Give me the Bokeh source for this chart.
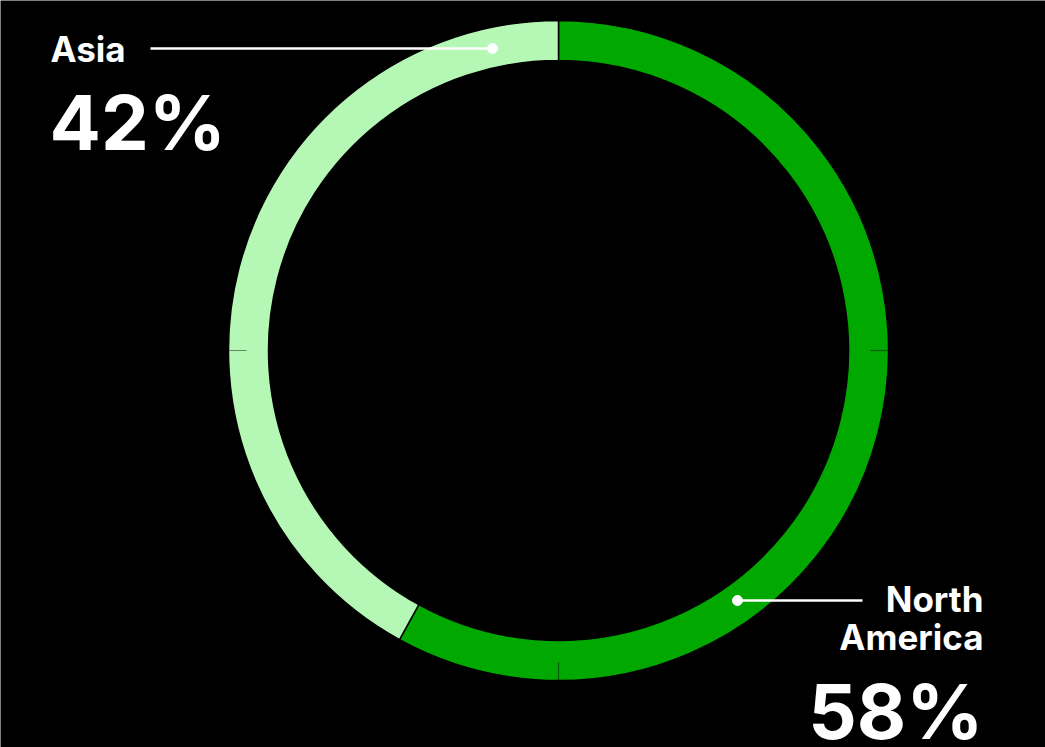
import math
from bokeh.plotting import figure
from bokeh.models import Range1d
from bokeh.core.properties import value
from bokeh.embed import file_html
from bokeh.resources import INLINE

# ---- data ----
regions = ["North America", "Asia"]
shares = [58, 42]
colors = ["#00A800", "#B5F8B5"]
pct_labels = ["58%", "42%"]

W, H = 1045, 747
p = figure(width=W, height=H, output_backend="svg", toolbar_location=None,
           x_range=Range1d(0, W), y_range=Range1d(0, H),
           min_border=0, outline_line_color=None,
           background_fill_color="black", border_fill_color="black")
p.axis.visible = False
p.grid.visible = False

def sy(y):
    return H - y

cx, cy = 558, sy(350)
r_out, r_in = 330, 290

# wedges, clockwise from 12 o'clock
total = sum(shares)
start = 90.0
starts, ends = [], []
for s in shares:
    sweep = 360.0 * s / total
    ends.append(math.radians(start))
    starts.append(math.radians(start - sweep))
    start -= sweep

p.annular_wedge(x=[cx] * len(shares), y=[cy] * len(shares),
                inner_radius=r_in, outer_radius=r_out,
                start_angle=starts, end_angle=ends,
                fill_color=colors, line_color="black", line_width=1.5)

# faint radial ticks at 3, 6, 9 o'clock
for a in [0, -90, 180]:
    t = math.radians(a)
    p.line([cx + 312 * math.cos(t), cx + 331 * math.cos(t)],
           [cy + 312 * math.sin(t), cy + 331 * math.sin(t)],
           line_color="black", line_alpha=0.45, line_width=1.2)

# leader lines
p.line([150, 492], [sy(48), sy(48)], line_color="white", line_width=2.5)
p.scatter([492], [sy(48)], size=10, color="white")
p.line([737, 862], [sy(600), sy(600)], line_color="white", line_width=2.5)
p.scatter([737], [sy(600)], size=10, color="white")

font = value("Inter")
small, big = 35, 76
def base(y, size):
    return sy(y - 0.38 * size)

# Asia labels
p.text(x=[50], y=[base(62, small)], text=[regions[1]], text_color="white",
       text_font=font, text_font_style="bold", text_font_size=f"{small}px",
       text_align="left", text_baseline="alphabetic")
p.text(x=[49], y=[base(150, big)], text=[pct_labels[1]], text_color="white",
       text_font=font, text_font_style="bold", text_font_size=f"{big}px",
       text_align="left", text_baseline="alphabetic")
# North America labels
p.text(x=[983, 983], y=[base(612, small), base(650, small)], text=["North", "America"],
       text_color="white", text_font=font, text_font_style="bold",
       text_font_size=f"{small}px", text_align="right", text_baseline="alphabetic")
p.text(x=[983], y=[base(739, big)], text=[pct_labels[0]], text_color="white",
       text_font=font, text_font_style="bold", text_font_size=f"{big}px",
       text_align="right", text_baseline="alphabetic")

open("out.html", "w").write(file_html(p, INLINE))
